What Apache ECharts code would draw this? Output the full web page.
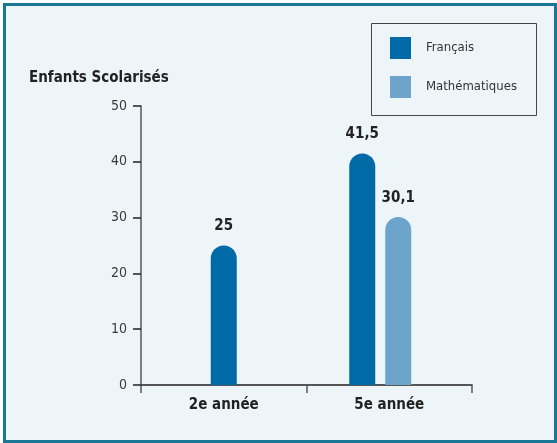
<!DOCTYPE html>
<html>
<head>
<meta charset="utf-8">
<script src="https://cdn.jsdelivr.net/npm/echarts@6/dist/echarts.min.js"></script>
<style>
  html, body { margin: 0; padding: 0; background: #ffffff; }
  #frame {
    position: absolute; left: 3px; top: 3px; width: 548px; height: 434px;
    border: 3px solid #1a7896; background: #eef5f9;
  }
  #chart { position: absolute; left: 0; top: 0; width: 557px; height: 443px; }
</style>
</head>
<body>
<div id="frame"></div>
<div id="chart"></div>
<script>
// Pupils enrolled, by grade and subject
const categories = ['2e année', '5e année'];
const seriesNames = ['Français', 'Mathématiques'];
const francais = [25, 41.5];
const mathematiques = [null, 30.1];
const yTicks = [0, 10, 20, 30, 40, 50];

const colors = ['#006aa6', '#6ca4cc'];
const narrow = '"DejaVu Sans Condensed", "Liberation Sans Narrow", sans-serif';
const allValues = [francais, mathematiques];

const BAR_W = 26, BAR_GAP = 10, PAIR_SHIFT = -9;

function fmt(v) { return String(v).replace('.', ','); }

function makeRender(seriesIdx) {
  return function (params, api) {
    const cat = api.value(0);
    const val = api.value(1);
    // bars present in this category decide the slot layout
    const present = allValues.map((arr, i) => arr[cat] != null ? i : -1).filter(i => i >= 0);
    const n = present.length;
    const slot = present.indexOf(seriesIdx);
    const offset = (slot - (n - 1) / 2) * (BAR_W + BAR_GAP) + (n > 1 ? PAIR_SHIFT : 0);
    const base = api.coord([cat, 0]);
    const top = api.coord([cat, val]);
    const cx = base[0] + offset;
    return {
      type: 'group',
      children: [
        {
          type: 'rect',
          shape: { x: cx - BAR_W / 2, y: top[1], width: BAR_W, height: base[1] - top[1], r: [13, 13, 0, 0] },
          style: { fill: colors[seriesIdx] }
        },
        {
          type: 'text',
          style: {
            x: cx, y: top[1] - 19, text: fmt(val),
            fill: '#222', font: 'bold 15px ' + narrow,
            align: 'center', verticalAlign: 'middle'
          }
        }
      ]
    };
  };
}

function toData(arr) {
  const out = [];
  arr.forEach((v, i) => { if (v != null) out.push([i, v]); });
  return out;
}

const chart = echarts.init(document.getElementById('chart'), null, { renderer: 'canvas' });
chart.setOption({
  backgroundColor: 'transparent',
  animation: false,
  title: {
    text: 'Enfants Scolarisés', left: 24, top: 66,
    textStyle: { fontFamily: narrow, fontWeight: 'bold', fontSize: 15, color: '#222' }
  },
  graphic: [{
    type: 'rect', left: 371, top: 23,
    shape: { width: 165, height: 92 },
    style: { fill: 'transparent', stroke: '#444', lineWidth: 1 }
  }],
  legend: {
    orient: 'vertical', left: 385, top: 32,
    icon: 'rect', itemWidth: 21, itemHeight: 22, itemGap: 17,
    data: seriesNames,
    textStyle: { fontFamily: narrow, fontSize: 13, color: '#333', padding: [0, 0, 0, 10] }
  },
  grid: { left: 141, right: 85, top: 106, bottom: 58 },
  xAxis: {
    type: 'category', data: categories,
    axisLine: { lineStyle: { color: '#222', width: 1.5 } },
    axisTick: { show: true, length: 8, lineStyle: { color: '#555', width: 1.5 } },
    axisLabel: { margin: 13, fontFamily: narrow, fontWeight: 'bold', fontSize: 15, color: '#222' }
  },
  yAxis: {
    type: 'value', min: yTicks[0], max: yTicks[yTicks.length - 1], interval: 10,
    splitLine: { show: false },
    axisLine: { show: true, lineStyle: { color: '#555', width: 1.5 } },
    axisTick: { show: true, length: 8, lineStyle: { color: '#222', width: 1.5 } },
    axisLabel: { margin: 14, fontFamily: narrow, fontSize: 14, color: '#3a3a3a' }
  },
  series: [
    { name: seriesNames[0], type: 'custom', itemStyle: { color: colors[0] }, renderItem: makeRender(0), data: toData(francais), encode: { x: 0, y: 1 } },
    { name: seriesNames[1], type: 'custom', itemStyle: { color: colors[1] }, renderItem: makeRender(1), data: toData(mathematiques), encode: { x: 0, y: 1 } }
  ]
});
</script>
</body>
</html>
